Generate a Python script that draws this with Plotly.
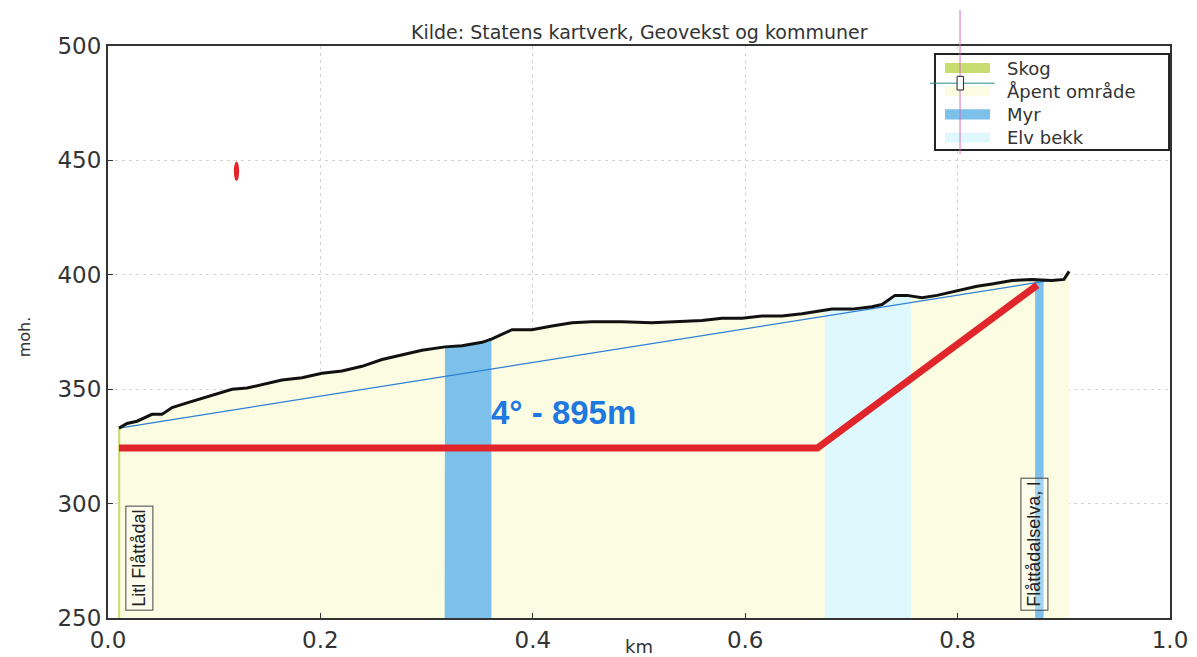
import numpy as np
import plotly.graph_objects as go

# terrain profile (km, moh.)
dist_km = [0.0104, 0.0179, 0.0273, 0.0414, 0.0508, 0.0603, 0.0744, 0.0885, 0.1026, 0.1168,
           0.1309, 0.145, 0.1638, 0.1827, 0.2015, 0.2203, 0.2392, 0.258, 0.2768, 0.2957,
           0.3173, 0.3333, 0.3522, 0.3616, 0.3804, 0.3992, 0.4181, 0.4369, 0.4557, 0.484,
           0.5122, 0.5405, 0.5593, 0.5782, 0.597, 0.6158, 0.6347, 0.6535, 0.6676, 0.6817,
           0.7006, 0.7194, 0.7288, 0.741, 0.7524, 0.7665, 0.7806, 0.7947, 0.8089, 0.8183,
           0.8324, 0.8512, 0.8701, 0.8889, 0.9002, 0.905]
height_m = [333, 335, 336, 339, 339, 342, 344, 346, 348, 350,
            350.5, 352, 354, 355, 357, 358, 360, 363, 365, 367,
            368.5, 369, 370.5, 372, 376, 376, 377.6, 379, 379.5, 379.5,
            379, 379.5, 380, 381, 381, 382, 382, 383, 384, 385,
            385, 386, 387, 391, 391, 390, 391, 392.5, 394, 395,
            396, 397.5, 398, 397.5, 398, 401.5]

# land cover bands (start km, end km)
cover_names = ["Åpent område", "Skog", "Myr", "Myr", "Elv bekk"]
cover_start = [0.0104, 0.0095, 0.317, 0.873, 0.675]
cover_end = [0.905, 0.0115, 0.361, 0.881, 0.756]
cover_colors = {"Skog": "#c9dc72", "Åpent område": "#fcfce2",
                "Myr": "#7dc0ea", "Elv bekk": "#dff8fd"}
legend_order = ["Skog", "Åpent område", "Myr", "Elv bekk"]

# straight line start -> end
chord_x = [0.0104, 0.8935]
chord_y = [333, 398]

# drawn red line
red_x = [0.0104, 0.668, 0.875]
red_y = [324.3, 324.3, 395.5]

# red mark
mark_x = [0.1185, 0.1235]
mark_y = [441, 449.5]

x_ticks = [0.0, 0.2, 0.4, 0.6, 0.8, 1.0]
y_ticks = [250, 300, 350, 400, 450, 500]

FONT = "DejaVu Sans"
LABEL_FONT = "Liberation Sans"

fig = go.Figure()

dk = np.array(dist_km)
hm = np.array(height_m)


def band(x0, x1):
    inner = dk[(dk > x0) & (dk < x1)]
    xs = np.concatenate([[x0], inner, [x1]])
    return xs, np.interp(xs, dk, hm)


for name, x0, x1 in zip(cover_names, cover_start, cover_end):
    xs, ys = band(x0, x1)
    fig.add_trace(go.Scatter(
        x=np.concatenate([[x0], xs, [x1]]),
        y=np.concatenate([[250], ys, [250]]),
        fill="toself", fillcolor=cover_colors[name], mode="lines",
        line=dict(width=0, color=cover_colors[name]),
        name=name, showlegend=False, hoverinfo="skip",
    ))

fig.add_trace(go.Scatter(x=chord_x, y=chord_y, mode="lines",
                         line=dict(color="#2a80d6", width=1.2), showlegend=False))
fig.add_trace(go.Scatter(x=dist_km, y=height_m, mode="lines",
                         line=dict(color="#111111", width=3), showlegend=False))
fig.add_trace(go.Scatter(x=red_x, y=red_y, mode="lines",
                         line=dict(color="#e0252b", width=7), showlegend=False))

fig.add_shape(type="circle", x0=mark_x[0], x1=mark_x[1], y0=mark_y[0], y1=mark_y[1],
              fillcolor="#e0252b", line=dict(width=0))

# legend box (matplotlib style), drawn by hand
fig.add_shape(type="rect", xref="paper", yref="paper", x0=0.7787, x1=0.9991,
              y0=0.818, y1=0.986, fillcolor="white", line=dict(color="#222", width=2))
row_top, row_step = 0.9615, 0.0405
for i, name in enumerate(legend_order):
    yc = row_top - i * row_step
    fig.add_shape(type="rect", xref="paper", yref="paper", x0=0.7881, x1=0.8305,
                  y0=yc - 0.0088, y1=yc + 0.0088, fillcolor=cover_colors[name],
                  line=dict(width=0))
    fig.add_annotation(x=0.8446, y=yc, xref="paper", yref="paper", text=name,
                       xanchor="left", yanchor="middle", showarrow=False,
                       font=dict(family=FONT, size=18, color="#333"))

# cursor artefact over the legend
fig.add_shape(type="line", xref="paper", yref="paper", x0=0.8023, x1=0.8023,
              y0=0.811, y1=1.063, line=dict(color="#d070c0", width=1))
fig.add_shape(type="line", xref="paper", yref="paper", x0=0.774, x1=0.835,
              y0=0.935, y1=0.935, line=dict(color="#2a8a8a", width=1))
fig.add_shape(type="rect", xref="paper", yref="paper", x0=0.7995, x1=0.8055,
              y0=0.923, y1=0.947, line=dict(color="#222", width=1), fillcolor="white")

fig.add_annotation(x=0.5, y=1.0245, xref="paper", yref="paper", showarrow=False,
                   xanchor="center", yanchor="middle",
                   text="Kilde: Statens kartverk, Geovekst og kommuner",
                   font=dict(family=FONT, size=19, color="#333"))
fig.add_annotation(x=0.4285, y=340, text="<b>4° - 895m</b>", showarrow=False,
                   font=dict(family=LABEL_FONT, size=33, color="#1f78e0"))
fig.add_annotation(x=0.0292, y=253, yanchor="bottom", text="Litl Flåttådal", textangle=-90,
                   showarrow=False, bordercolor="#444", borderwidth=1, borderpad=3,
                   bgcolor="rgba(255,255,255,0.3)",
                   font=dict(family=LABEL_FONT, size=18, color="#222"))
fig.add_annotation(x=0.872, y=253, yanchor="bottom", text="Flåttådalselva, l", textangle=-90,
                   showarrow=False, bordercolor="#444", borderwidth=1, borderpad=3,
                   bgcolor="rgba(255,255,255,0.3)",
                   font=dict(family=LABEL_FONT, size=18, color="#222"))
fig.add_annotation(x=0.5, y=-0.05, xref="paper", yref="paper", text="km", showarrow=False,
                   xanchor="center", yanchor="middle",
                   font=dict(family=FONT, size=18, color="#333"))
fig.add_annotation(x=-0.079, y=0.491, xref="paper", yref="paper", text="moh.", textangle=-90,
                   xanchor="center", yanchor="middle", showarrow=False,
                   font=dict(family=FONT, size=16, color="#333"))

axis_common = dict(
    showline=True, mirror=True, linecolor="#333", linewidth=2,
    ticks="inside", ticklen=5, tickcolor="#333",
    showgrid=True, gridcolor="#d2d2d2", griddash="3px,4px", gridwidth=1,
    zeroline=False, tickfont=dict(family=FONT, size=23, color="#333"),
)
fig.update_xaxes(range=[0, 1], tickvals=x_ticks, tickformat=".1f", **axis_common)
fig.update_yaxes(range=[250, 500], tickvals=y_ticks, **axis_common)

fig.update_layout(
    width=1197, height=657,
    margin=dict(l=100, r=35, t=38, b=47),
    plot_bgcolor="white", paper_bgcolor="white",
    showlegend=False,
)

fig.write_html("out.html")
